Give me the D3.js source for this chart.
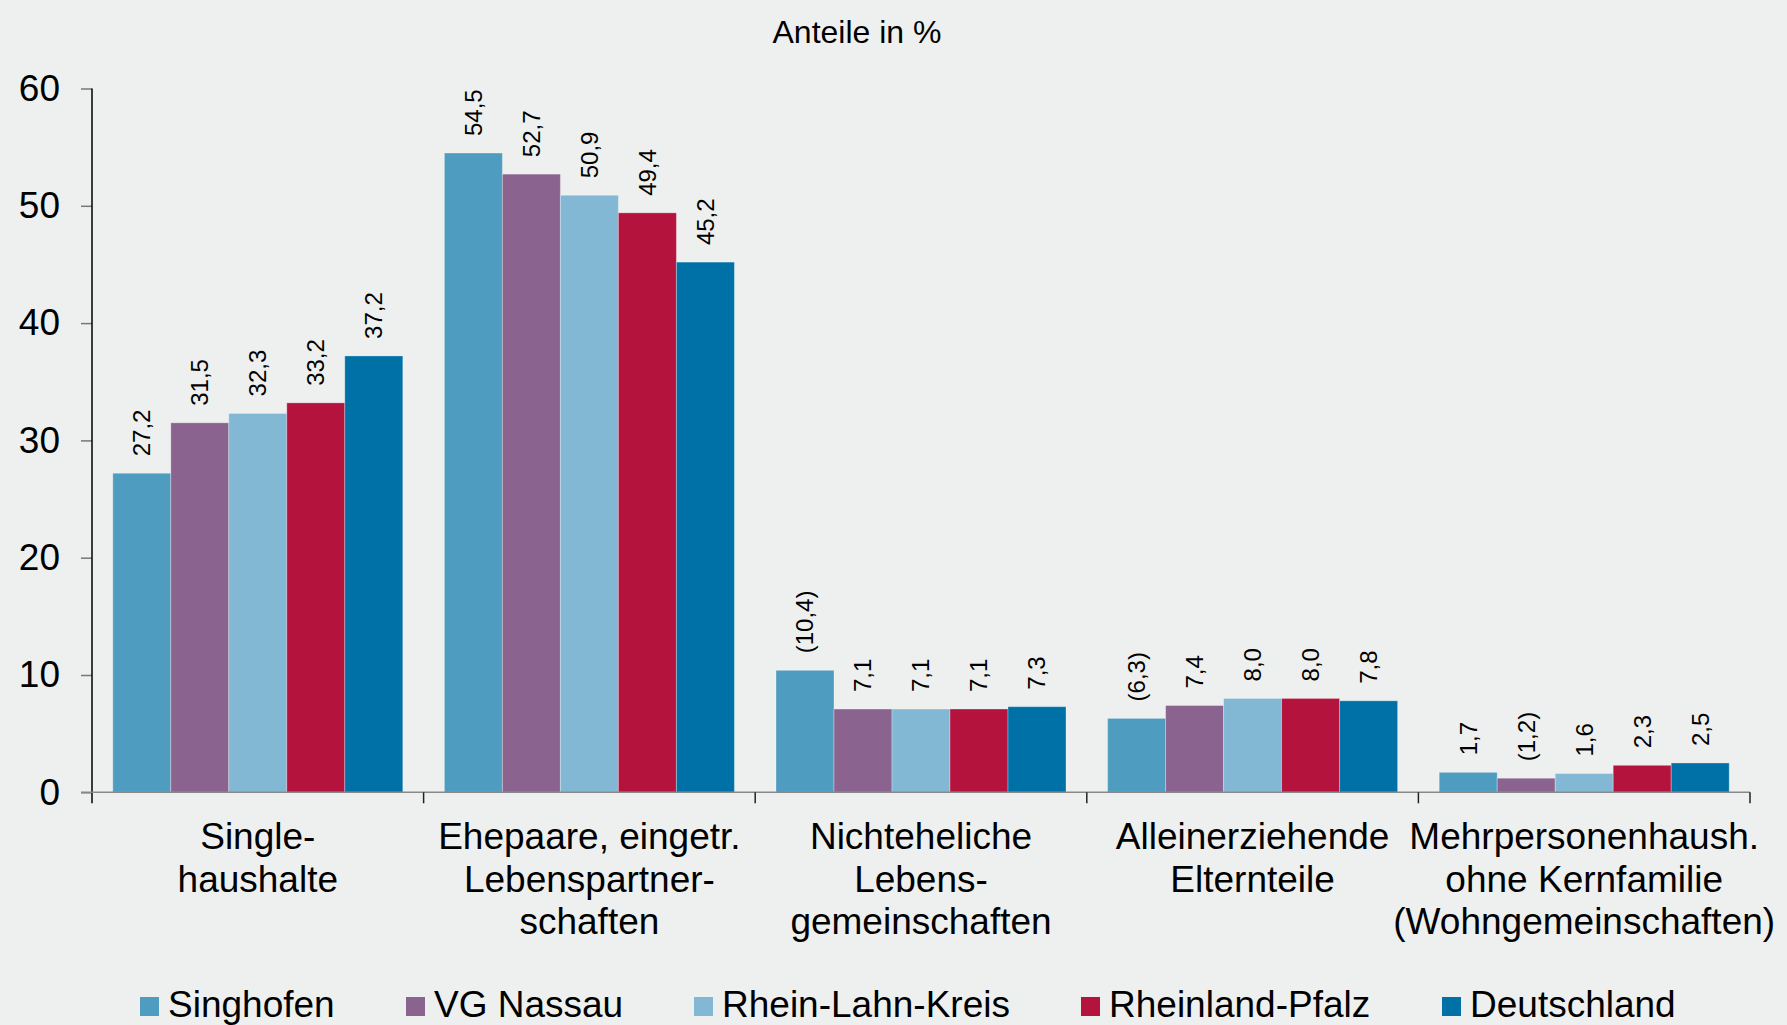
<!DOCTYPE html>
<html>
<head>
<meta charset="utf-8">
<script src="https://cdn.jsdelivr.net/npm/d3@7"></script>
<style>
  html, body { margin: 0; padding: 0; background: #eef0ef; }
  svg { display: block; font-family: "Liberation Sans", Arial, sans-serif; }
</style>
</head>
<body>
<svg id="chart" width="1787" height="1025"></svg>
<script>
const categories = [
  ["Single-", "haushalte"],
  ["Ehepaare, eingetr.", "Lebenspartner-", "schaften"],
  ["Nichteheliche", "Lebens-", "gemeinschaften"],
  ["Alleinerziehende", "Elternteile"],
  ["Mehrpersonenhaush.", "ohne Kernfamilie", "(Wohngemeinschaften)"]
];
const seriesNames = ["Singhofen", "VG Nassau", "Rhein-Lahn-Kreis", "Rheinland-Pfalz", "Deutschland"];
const seriesColors = ["#4e9dc0", "#8a648e", "#82b8d4", "#b3133d", "#0071a6"];
const singhofen      = [27.2, 54.5, 10.4, 6.3, 1.7];
const vgNassau       = [31.5, 52.7, 7.1, 7.4, 1.2];
const rheinLahnKreis = [32.3, 50.9, 7.1, 8.0, 1.6];
const rheinlandPfalz = [33.2, 49.4, 7.1, 8.0, 2.3];
const deutschland    = [37.2, 45.2, 7.3, 7.8, 2.5];
const singhofenLabels      = ["27,2", "54,5", "(10,4)", "(6,3)", "1,7"];
const vgNassauLabels       = ["31,5", "52,7", "7,1", "7,4", "(1,2)"];
const rheinLahnKreisLabels = ["32,3", "50,9", "7,1", "8,0", "1,6"];
const rheinlandPfalzLabels = ["33,2", "49,4", "7,1", "8,0", "2,3"];
const deutschlandLabels    = ["37,2", "45,2", "7,3", "7,8", "2,5"];
const yTicks = [0, 10, 20, 30, 40, 50, 60];
const chartTitle = "Anteile in %";

const seriesValues = [singhofen, vgNassau, rheinLahnKreis, rheinlandPfalz, deutschland];
const seriesLabels = [singhofenLabels, vgNassauLabels, rheinLahnKreisLabels, rheinlandPfalzLabels, deutschlandLabels];

const svg = d3.select("#chart");
const mLeft = 92, mRight = 1750, mTop = 88.5, mBottom = 792.3;

const x0 = d3.scaleBand().domain(d3.range(categories.length)).range([mLeft, mRight]).padding(0);
const inner = 20.8;
const x1 = d3.scaleBand().domain(d3.range(seriesNames.length)).range([inner, x0.bandwidth() - inner]).padding(0);
const y = d3.scaleLinear().domain([0, 60]).range([mBottom, mTop]);

// title
svg.append("text").attr("x", 857).attr("y", 43).attr("text-anchor", "middle")
  .attr("font-size", 32).attr("fill", "#000").text(chartTitle);

// bars
const groups = svg.append("g").selectAll("g").data(categories).join("g")
  .attr("transform", (d, i) => `translate(${x0(i)},0)`);

groups.each(function(cat, ci) {
  const g = d3.select(this);
  seriesNames.forEach((s, si) => {
    const v = seriesValues[si][ci];
    g.append("rect")
      .attr("x", x1(si)).attr("width", x1.bandwidth())
      .attr("y", y(v)).attr("height", y(0) - y(v))
      .attr("fill", seriesColors[si])
      .attr("stroke", "rgba(255,255,255,0.3)").attr("stroke-width", 1);
    const cx = x1(si) + x1.bandwidth() / 2;
    const ty = y(v) - 17;
    g.append("text")
      .attr("transform", `translate(${cx},${ty}) rotate(-90)`)
      .attr("text-anchor", "start").attr("dy", "0.35em")
      .attr("font-size", 24).attr("fill", "#000")
      .text(seriesLabels[si][ci]);
  });
});

// y axis
const yAxis = svg.append("g").attr("transform", `translate(${mLeft},0)`)
  .call(d3.axisLeft(y).tickValues(yTicks).tickSize(11).tickPadding(21).tickFormat(d3.format("d")));
yAxis.select(".domain").remove();
yAxis.selectAll(".tick line").attr("stroke", "#777").attr("stroke-width", 1.5);
yAxis.selectAll(".tick text").attr("font-size", 37).attr("fill", "#000")
  .attr("font-family", "'Liberation Sans', Arial, sans-serif");
svg.append("line").attr("x1", mLeft).attr("x2", mLeft).attr("y1", mTop).attr("y2", mBottom + 11)
  .attr("stroke", "#000").attr("stroke-width", 1.5);

// x axis
svg.append("line").attr("x1", mLeft - 11).attr("x2", mRight).attr("y1", mBottom).attr("y2", mBottom)
  .attr("stroke", "#888").attr("stroke-width", 1.5);
const boundaries = d3.range(1, categories.length + 1).map(i => i < categories.length ? x0(i) : mRight);
svg.append("g").selectAll("line").data(boundaries).join("line")
  .attr("x1", d => d).attr("x2", d => d).attr("y1", mBottom).attr("y2", mBottom + 11)
  .attr("stroke", "#222").attr("stroke-width", 1.5);

// category labels
const catG = svg.append("g");
categories.forEach((lines, ci) => {
  const cx = x0(ci) + x0.bandwidth() / 2;
  const t = catG.append("text").attr("text-anchor", "middle").attr("font-size", 37).attr("fill", "#000");
  lines.forEach((ln, li) => {
    t.append("tspan").attr("x", cx).attr("y", 849 + li * 42.5).text(ln);
  });
});

// legend
const legendX = [140, 406, 694, 1081, 1442];
const leg = svg.append("g");
seriesNames.forEach((s, si) => {
  leg.append("rect").attr("x", legendX[si]).attr("y", 997).attr("width", 19).attr("height", 19)
    .attr("fill", seriesColors[si]);
  leg.append("text").attr("x", legendX[si] + 28).attr("y", 1017)
    .attr("font-size", 37).attr("fill", "#000").text(s);
});
</script>
</body>
</html>
